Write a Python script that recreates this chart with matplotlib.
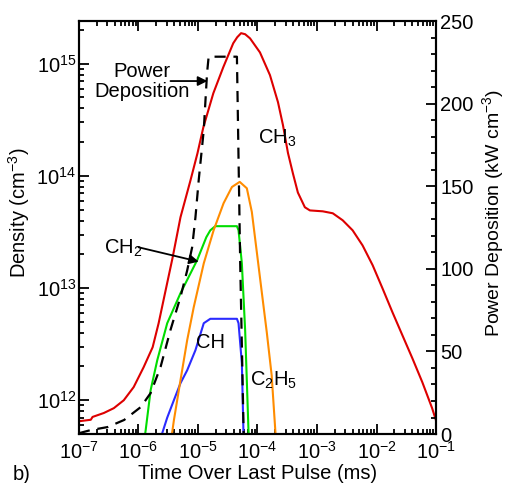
import matplotlib
matplotlib.use("Agg")
import matplotlib.pyplot as plt
import numpy as np
from matplotlib.ticker import LogLocator, MultipleLocator

plt.rcParams['font.family'] = ['Liberation Sans', 'DejaVu Sans']
plt.rcParams['mathtext.fontset'] = 'custom'
plt.rcParams['mathtext.rm'] = 'Liberation Sans'
plt.rcParams['mathtext.it'] = 'Liberation Sans:italic'
plt.rcParams['mathtext.bf'] = 'Liberation Sans:bold'
plt.rcParams['font.size'] = 14.5

# CH3 density (cm^-3) vs time (ms)
ch3_t = [1.0e-7, 1.58e-7, 1.69e-7, 2.62e-7, 3.85e-7, 5.66e-7, 8.3e-7, 1.22e-6,
         1.73e-6, 2.18e-6, 2.74e-6, 3.73e-6, 5.08e-6, 7.47e-6, 9.8e-6,
         1.23e-5, 1.81e-5, 2.66e-5, 3.91e-5, 4.56e-5, 5.3e-5, 6.2e-5, 7.5e-5,
         1.10e-4, 1.62e-4, 2.21e-4, 2.68e-4, 3.25e-4, 3.94e-4, 4.77e-4, 6.25e-4,
         7.6e-4, 1.25e-3, 1.84e-3, 2.7e-3, 3.97e-3, 5.83e-3, 8.6e-3, 1.26e-2,
         1.85e-2, 2.72e-2, 4.0e-2, 5.88e-2, 8.6e-2, 1.0e-1]
ch3_n = [6.5e11, 6.7e11, 7.1e11, 7.7e11, 8.5e11, 1.0e12, 1.31e12, 1.97e12,
         2.97e12, 4.86e12, 8.6e12, 1.85e13, 4.28e13, 9.1e13, 1.59e14,
         2.71e14, 5.45e14, 9.3e14, 1.52e15, 1.72e15, 1.87e15, 1.83e15, 1.68e15,
         1.26e15, 7.9e14, 4.53e14, 2.83e14, 1.6e14, 1.05e14, 7.1e13, 5.25e13,
         4.92e13, 4.83e13, 4.64e13, 4.02e13, 3.27e13, 2.4e13, 1.6e13, 9.95e12,
         6.1e12, 3.8e12, 2.37e12, 1.45e12, 8.5e11, 6.6e11]

# CH2
ch2_t = [1.22e-6, 1.32e-6, 1.60e-6, 2.07e-6, 3.04e-6, 5.08e-6, 9.66e-6, 1.38e-5,
         1.61e-5, 1.95e-5, 4.51e-5, 4.8e-5, 5.46e-5, 6.2e-5, 7.05e-5, 7.4e-5]
ch2_n = [4.0e11, 5.4e11, 1.23e12, 2.28e12, 4.86e12, 9.0e12, 1.77e13, 2.84e13,
         3.27e13, 3.56e13, 3.56e13, 3.27e13, 1.66e13, 4.2e12, 5.4e11, 4.0e11]

# CH
ch_t = [2.27e-6, 2.51e-6, 3.04e-6, 3.93e-6, 5.08e-6, 6.58e-6, 9.05e-6, 1.25e-5,
        1.61e-5, 4.51e-5, 4.8e-5, 5.46e-5, 5.81e-5, 5.97e-5]
ch_n = [4.0e11, 5.1e11, 7.0e11, 1.0e12, 1.42e12, 1.85e12, 2.79e12, 4.86e12,
        5.32e12, 5.32e12, 4.86e12, 2.14e12, 5.1e11, 4.0e11]

# C2H5
c2h5_t = [3.45e-6, 3.67e-6, 3.93e-6, 5.08e-6, 6.58e-6, 8.48e-6, 1.25e-5, 1.83e-5,
          2.69e-5, 3.72e-5, 5.02e-5, 6.62e-5, 8.03e-5, 9.73e-5, 1.18e-4, 1.43e-4,
          1.73e-4, 2.01e-4, 2.06e-4]
c2h5_n = [4.0e11, 5.1e11, 6.6e11, 1.51e12, 3.43e12, 6.75e12, 1.66e13, 3.27e13,
          5.7e13, 7.96e13, 8.84e13, 7.75e13, 4.77e13, 2.1e13, 9.2e12, 4.06e12,
          1.67e12, 5.0e11, 4.0e11]

# power deposition (kW cm^-3)
pw_t = [1.0e-7, 1.58e-7, 3.02e-7, 5.73e-7, 1.09e-6, 1.60e-6, 2.35e-6, 3.45e-6,
        5.08e-6, 6.58e-6, 7.97e-6, 9.05e-6, 1.03e-5, 1.25e-5, 1.42e-5, 1.51e-5,
        4.51e-5, 5.12e-5, 5.85e-5]
pw_p = [0.5, 2.4, 4.2, 8.5, 16.3, 24.8, 40.6, 63, 83, 99, 113, 131, 154, 184,
        218.5, 228.4, 228.4, 103.5, 0]

fig = plt.figure(figsize=(5.05, 4.83), dpi=100)
ax = fig.add_axes([0.1564, 0.1014, 0.707, 0.8551])
ax2 = ax.twinx()

ax.plot(ch3_t, ch3_n, color='#dd0000', lw=1.5)
ax.plot(ch2_t, ch2_n, color='#00dd00', lw=1.5)
ax.plot(ch_t, ch_n, color='#2b2bff', lw=1.5)
ax.plot(c2h5_t, c2h5_n, color='#ff8c00', lw=1.5)
ax2.plot(pw_t, pw_p, color='black', lw=1.6, dashes=(5, 3.5))

ax.set_xscale('log')
ax.set_yscale('log')
ax.set_xlim(1e-7, 1e-1)
ax.set_ylim(5e11, 2.4e15)
ax2.set_ylim(0, 250)

ax.xaxis.set_major_locator(LogLocator(base=10, numticks=10))
ax.xaxis.set_minor_locator(LogLocator(base=10, subs=np.arange(2, 10), numticks=20))
ax.yaxis.set_major_locator(LogLocator(base=10, numticks=10))
ax.yaxis.set_minor_locator(LogLocator(base=10, subs=np.arange(2, 10), numticks=20))
ax2.yaxis.set_major_locator(MultipleLocator(50))
ax2.yaxis.set_minor_locator(MultipleLocator(10))

ax.tick_params(which='both', direction='in', top=True, right=False, width=1.3)
ax.tick_params(which='major', length=7)
ax.tick_params(which='minor', length=3.5)
ax.tick_params(axis='x', pad=5)
ax.tick_params(axis='y', pad=2)
ax2.tick_params(which='both', direction='in', width=1.3, pad=3)
ax2.tick_params(which='major', length=7)
ax2.tick_params(which='minor', length=3.5)

for a in (ax, ax2):
    for s in a.spines.values():
        s.set_linewidth(1.5)

ax.set_xlabel('Time Over Last Pulse (ms)', labelpad=1)
ax.set_ylabel('Density (cm$^{-3}$)')
ax2.set_ylabel('Power Deposition (kW cm$^{-3}$)', fontsize=14)
ax.yaxis.set_label_coords(-0.132, 0.535)
ax2.yaxis.set_label_coords(1.124, 0.535)

# labels
ax.text(1.13e-6, 6.9e14, 'Power\nDeposition', ha='center', va='center',
        multialignment='center', linespacing=1.05)
ax.annotate('', xy=(1.44e-5, 7.0e14), xytext=(3.45e-6, 7.0e14),
            arrowprops=dict(arrowstyle='-|>', color='black', lw=1.3,
                            mutation_scale=14, shrinkA=0, shrinkB=0))
ax.text(1.02e-4, 1.95e14, 'CH$_3$', ha='left', va='baseline')
ax.text(2.62e-7, 2.04e13, 'CH$_2$', ha='left', va='baseline')
ax.annotate('', xy=(1.03e-5, 1.72e13), xytext=(1.0e-6, 2.31e13),
            arrowprops=dict(arrowstyle='-|>', color='black', lw=1.3,
                            mutation_scale=14, shrinkA=0, shrinkB=0))
ax.text(9.4e-6, 2.9e12, 'CH', ha='left', va='baseline')
ax.text(7.5e-5, 1.36e12, 'C$_2$H$_5$', ha='left', va='baseline')

fig.text(22 / 505, 1 - 475 / 483, 'b)', ha='center', va='center')

fig.savefig('out.png', dpi=100)
